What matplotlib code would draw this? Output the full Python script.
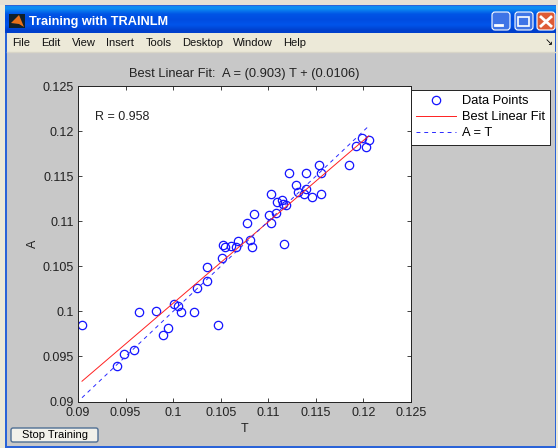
import numpy as np
from matplotlib import pyplot as plt
from matplotlib.patches import Rectangle, FancyBboxPatch, Polygon

plt.rcParams['font.family'] = ['Liberation Sans', 'DejaVu Sans']

# data
t_values = [.09042, .09644, .09824, .09415, .09479, .09585, .09894, .09947, .10007, .10056,
            .10085, .10218, .10246, .10352, .10356, .10468, .10510, .10528, .10545, .10608,
            .10661, .10685, .10808, .10832, .10780, .10853, .11008, .11029, .11085, .11162,
            .11029, .11092, .11148, .11159, .11183, .11214, .11288, .11312, .11375, .11396,
            .11393, .11463, .11558, .11537, .11558, .11845, .11926, .11989, .12024, .12056]
a_values = [.09852, .09989, .10000, .09396, .09530, .09570, .09737, .09811, .10085, .10059,
            .09996, .09989, .10259, .10333, .10489, .09852, .10592, .10733, .10714, .10725,
            .10714, .10777, .10796, .10711, .10985, .11085, .11074, .10981, .11088, .10751,
            .11303, .11211, .11233, .11189, .11185, .11533, .11400, .11322, .11307, .11352,
            .11533, .11266, .11307, .11629, .11533, .11629, .11829, .11918, .11826, .11900]
slope = 0.903
intercept = 0.0106
tick_values = [0.09, 0.095, 0.1, 0.105, 0.11, 0.115, 0.12, 0.125]
tick_labels = ['0.09', '0.095', '0.1', '0.105', '0.11', '0.115', '0.12', '0.125']
menu_items = ['File', 'Edit', 'View', 'Insert', 'Tools', 'Desktop', 'Window', 'Help']
menu_x = [12, 41, 72, 106, 146, 182, 233, 283]

W, H = 558, 448
fig = plt.figure(figsize=(W / 100, H / 100), dpi=100, facecolor='#ece9d8')

# window chrome, in pixel coords
bg = fig.add_axes([0, 0, 1, 1])
bg.set_xlim(0, W)
bg.set_ylim(H, 0)
bg.axis('off')
bg.add_patch(Rectangle((0, 0), W, 5, fc='#e4e0d4', ec='none'))
bg.add_patch(Rectangle((5, 5), 551, 443, fc='#2a63d8', ec='none'))
grad = np.array([[0.05, 0.55, 0.95], [0.0, 0.33, 0.9], [0.0, 0.3, 0.88], [0.0, 0.33, 0.92], [0.0, 0.25, 0.8]])
bg.imshow(grad[:, None, :], extent=(5, 556, 33, 6), aspect='auto', interpolation='bilinear', zorder=1)
bg.set_xlim(0, W)
bg.set_ylim(H, 0)
bg.add_patch(Rectangle((7, 33), 548, 20, fc='#ece9d8', ec='none', zorder=2))
bg.add_patch(Rectangle((7, 53), 548, 393, fc='#c8c8c8', ec='none', zorder=2))
bg.plot([7, 555], [52.5, 52.5], color='#d8d5c8', lw=1, zorder=3)

# title bar icon and text
bg.add_patch(Rectangle((9, 14), 16, 14, fc='#10202c', ec='none', zorder=3))
bg.add_patch(Polygon([[11, 23], [19, 15], [24, 27], [19, 24]], fc='#e8701a', ec='none', zorder=4))
bg.text(29, 21.5, 'Training with TRAINLM', color='white', fontsize=9.2, fontweight='bold',
        va='center', ha='left', zorder=4)
for i, item in enumerate(menu_items):
    bg.text(menu_x[i], 42.5, item, fontsize=8, va='center', ha='left', color='#111111', zorder=4)
bg.text(549, 42.5, '\u2198', fontsize=7, va='center', ha='center', color='black', zorder=4)

# window buttons
for x0, col in [(491, '#3f74e6'), (514, '#3f74e6'), (536, '#de5b35')]:
    bg.add_patch(FancyBboxPatch((x0 + 1, 12), 18, 18, boxstyle='round,pad=0,rounding_size=3',
                                fc=col, ec='white', lw=0.8, zorder=4))
bg.plot([495, 502], [25.5, 25.5], color='white', lw=2, zorder=5)
bg.add_patch(Rectangle((518, 17), 11, 9, fc='none', ec='white', lw=1.2, zorder=5))
bg.plot([541, 551], [17, 26], color='white', lw=2, zorder=5)
bg.plot([541, 551], [26, 17], color='white', lw=2, zorder=5)

# stop button
bg.add_patch(FancyBboxPatch((11, 428), 87, 14, boxstyle='round,pad=0,rounding_size=2',
                            fc='#f2f1ea', ec='#4f6f94', lw=1, zorder=4))
bg.text(54.5, 435.5, 'Stop Training', fontsize=8, ha='center', va='center', color='black', zorder=5)

# main axes
ax = fig.add_axes([78 / W, 1 - 401.5 / H, 333 / W, 315.5 / H])
fit_t = np.array([min(t_values), max(t_values)])
ax.plot(t_values, a_values, 'o', mfc='none', mec='#1414ff', ms=6, mew=0.9, ls='none', label='Data Points')
ax.plot(fit_t, slope * fit_t + intercept, color='#ff2020', lw=0.7, label='Best Linear Fit')
ax.plot(fit_t, fit_t, color='#2a2aff', lw=0.7, ls=(0, (4, 4)), label='A = T')
ax.set_xlim(0.09, 0.125)
ax.set_ylim(0.09, 0.125)
ax.set_xticks(tick_values)
ax.set_xticklabels(tick_labels)
ax.set_yticks(tick_values)
ax.set_yticklabels(tick_labels)
ax.tick_params(direction='in', top=True, right=True, length=3, width=0.6, labelsize=9, colors='#222222')
ax.tick_params(axis='x', pad=4)
ax.tick_params(axis='y', pad=3)
for s in ax.spines.values():
    s.set_linewidth(0.7)
    s.set_color('#222222')
ax.set_xlabel('T', fontsize=9, labelpad=3, color='#222222')
ax.set_ylabel('A', fontsize=9, labelpad=2.5, color='#222222')
ax.set_title('Best Linear Fit:  A = (0.903) T + (0.0106)', fontsize=9.3, pad=6.5, color='#222222')
ax.text(0.0918, 0.1216, 'R = 0.958', fontsize=9, va='center', ha='left', color='#222222')

leg = ax.legend(loc='upper left', bbox_to_anchor=(1.0, 1 - 4 / 315.5), borderaxespad=0,
                fontsize=9.3, frameon=True, fancybox=False, edgecolor='#222222', framealpha=1,
                handlelength=3.1, handletextpad=0.42, labelspacing=0.3, borderpad=0.42)
leg.get_frame().set_linewidth(0.7)

fig.savefig('out.png', dpi=100, facecolor=fig.get_facecolor())
